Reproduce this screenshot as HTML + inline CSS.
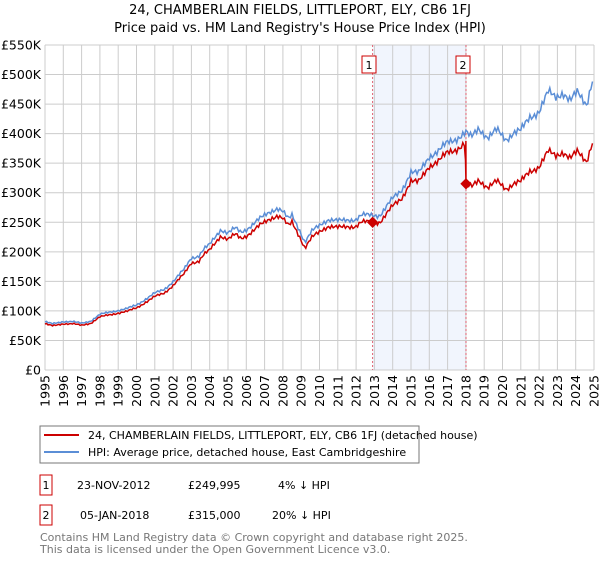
<!DOCTYPE html>
<html><head><meta charset="utf-8"><style>
body{margin:0;background:#fff;font-family:"DejaVu Sans","Liberation Sans",sans-serif;}
svg text{font-family:"DejaVu Sans","Liberation Sans",sans-serif;}
</style></head><body>
<svg id="s" width="600" height="560" viewBox="0 0 600 560" xmlns="http://www.w3.org/2000/svg">
<text x="300" y="14" font-size="13" text-anchor="middle" fill="#000">24, CHAMBERLAIN FIELDS, LITTLEPORT, ELY, CB6 1FJ</text>
<text x="300" y="32" font-size="13" text-anchor="middle" fill="#000">Price paid vs. HM Land Registry's House Price Index (HPI)</text>
<rect x="372.6" y="45" width="93.4" height="325" fill="#eef3fc" opacity="0.8"/>
<g id="grid" stroke="#cccccc" stroke-width="1"></g>
<g id="lab" font-size="12.5" fill="#000"></g>
<line x1="372.6" y1="45" x2="372.6" y2="370" stroke="#e06070" stroke-dasharray="2,2"/>
<line x1="466" y1="45" x2="466" y2="370" stroke="#e06070" stroke-dasharray="2,2"/>
<path id="blue" fill="none" stroke="#5b8ed6" stroke-width="1.5"/>
<path id="red" fill="none" stroke="#cc0000" stroke-width="1.5"/>
<rect x="362" y="56" width="14" height="17" fill="#fff" stroke="#cc0000"/>
<text x="369" y="69" font-size="11" text-anchor="middle">1</text>
<rect x="456" y="56" width="14" height="17" fill="#fff" stroke="#cc0000"/>
<text x="463" y="69" font-size="11" text-anchor="middle">2</text>
<rect x="368.6" y="218.3" width="8" height="8" fill="#cc0000" transform="rotate(45 372.6 222.3)"/>
<rect x="462" y="179.8" width="8" height="8" fill="#cc0000" transform="rotate(45 466 183.8)"/>
<rect x="40" y="426" width="379" height="37" fill="#fff" stroke="#777"/>
<line x1="44" y1="435" x2="79" y2="435" stroke="#cc0000" stroke-width="2"/>
<text x="88" y="439" font-size="11">24, CHAMBERLAIN FIELDS, LITTLEPORT, ELY, CB6 1FJ (detached house)</text>
<line x1="44" y1="452" x2="79" y2="452" stroke="#5b8ed6" stroke-width="2"/>
<text x="88" y="456" font-size="11">HPI: Average price, detached house, East Cambridgeshire</text>
<rect x="40" y="475" width="12" height="20" fill="#fff" stroke="#cc0000"/>
<text x="46" y="489" font-size="11" text-anchor="middle">1</text>
<text x="77" y="489" font-size="11">23-NOV-2012</text>
<text x="188" y="489" font-size="11">£249,995</text>
<text x="278" y="489" font-size="11">4% ↓ HPI</text>
<rect x="40" y="505" width="12" height="20" fill="#fff" stroke="#cc0000"/>
<text x="46" y="519" font-size="11" text-anchor="middle">2</text>
<text x="80" y="519" font-size="11">05-JAN-2018</text>
<text x="188" y="519" font-size="11">£315,000</text>
<text x="272" y="519" font-size="11">20% ↓ HPI</text>
<text x="40" y="541" font-size="11" fill="#777">Contains HM Land Registry data © Crown copyright and database right 2025.</text>
<text x="40" y="553" font-size="11" fill="#777">This data is licensed under the Open Government Licence v3.0.</text>
</svg>
<script>
var X=function(y){return 45+(y-1995)*18.3;},Y=function(v){return 370-v*0.5909;};
var g=document.getElementById('grid'),l=document.getElementById('lab'),h='',t='';
for(var i=0;i<=11;i++){var y=Y(i*50);h+='<line x1="45" x2="594" y1="'+y+'" y2="'+y+'"/>';t+='<text x="41" y="'+(y+4.5)+'" text-anchor="end">'+(i?'£'+i*50+'K':'£0')+'</text>';}
for(var yr=1995;yr<=2025;yr++){var x=X(yr);h+='<line y1="45" y2="370" x1="'+x+'" x2="'+x+'"/>';t+='<text transform="translate('+(x+4.5)+',375) rotate(-90)" text-anchor="end">'+yr+'</text>';}
g.innerHTML=h;l.innerHTML=t;
var K=[[1995,82],[1995.4,78],[1996,82],[1996.5,82],[1997,79],[1997.5,83],[1998,94],[1999,101],[1999.5,104],[2000,110],[2001,130],[2001.5,136],[2002,150],[2002.6,170],[2003,190],[2003.4,193],[2003.7,205],[2004,212],[2004.6,238],[2005,232],[2005.4,240],[2005.7,233],[2006,238],[2006.7,255],[2007.4,270],[2007.7,274],[2008,268],[2008.3,255],[2008.5,262],[2008.9,238],[2009.2,216],[2009.6,235],[2010.2,250],[2010.5,255],[2011,252],[2011.5,254],[2012,255],[2012.3,262],[2012.9,262],[2013.3,262],[2014,290],[2014.5,305],[2015,335],[2015.4,332],[2016,362],[2016.5,370],[2017,385],[2017.5,392],[2018,402],[2018.3,393],[2018.7,410],[2019.2,393],[2019.7,406],[2020.2,390],[2020.6,402],[2021,405],[2021.5,428],[2022,438],[2022.5,470],[2022.9,462],[2023.3,470],[2023.7,455],[2024.1,470],[2024.6,450],[2024.9,490]];
function val(y){for(var i=1;i<K.length;i++)if(y<=K[i][0]){var a=K[i-1],b=K[i],f=(y-a[0])/(b[0]-a[0]);return a[1]+f*(b[1]-a[1]);}return K[K.length-1][1];}
var bp='',rp='';
for(var y=1995;y<=2024.95;y+=1/12){var v=val(y)*(1+0.012*Math.sin(y*29)+0.008*Math.sin(y*71));
bp+=(bp?'L':'M')+X(y).toFixed(1)+','+Y(v).toFixed(1);
var r;if(y<2012.9)r=v*0.955;else if(y<2018.0)r=v*0.955*(1-0.0*(y-2012.9));else r=v*0.786;
if(y>=2017.99&&y<2018.0+1/12&&rp.indexOf('X')<0){rp+='L'+X(2017.98).toFixed(1)+','+Y(355)+'L466,183.8';}
rp+=(rp?'L':'M')+X(y).toFixed(1)+','+Y(r).toFixed(1);}
document.getElementById('blue').setAttribute('d',bp);document.getElementById('red').setAttribute('d',rp);
</script>
</body></html>
